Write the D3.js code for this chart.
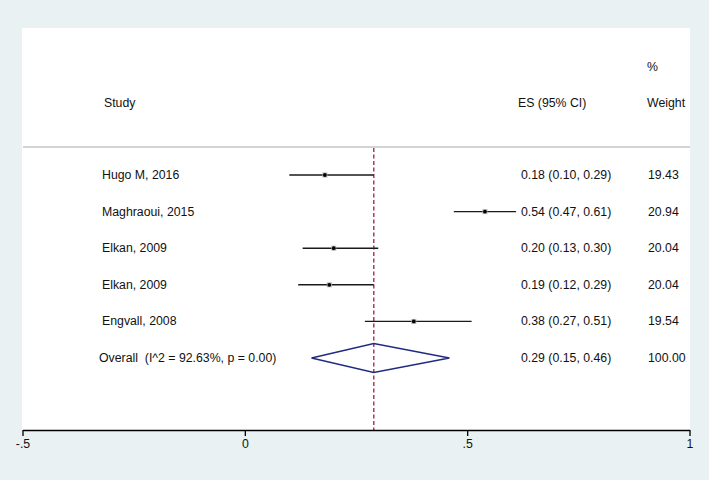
<!DOCTYPE html>
<html>
<head>
<meta charset="utf-8">
<script src="https://cdn.jsdelivr.net/npm/d3@7"></script>
<style>
  html, body { margin: 0; padding: 0; background: #e9f1f3; }
  svg { display: block; }
  text { font-family: "Liberation Sans", Arial, Helvetica, sans-serif; font-size: 12.3px; fill: #111; }
</style>
</head>
<body>
<svg id="chart" width="709" height="480"></svg>
<script>
// ---- data ----
const studies = ["Hugo M, 2016", "Maghraoui, 2015", "Elkan, 2009", "Elkan, 2009", "Engvall, 2008"];
const es      = [0.18, 0.54, 0.20, 0.19, 0.38];
const ciLow   = [0.10, 0.47, 0.13, 0.12, 0.27];
const ciHigh  = [0.29, 0.61, 0.30, 0.29, 0.51];
const weights = [19.43, 20.94, 20.04, 20.04, 19.54];
const overallLabel = "Overall  (I^2 = 92.63%, p = 0.00)";
const overall = { es: 0.29, lo: 0.15, hi: 0.46, weight: 100.00 };
const xTicks = [-0.5, 0, 0.5, 1];
const xTickLabels = ["-.5", "0", ".5", "1"];

// ---- drawing ----
const svg = d3.select("#chart");
const W = 709, H = 480;
svg.append("rect").attr("width", W).attr("height", H).attr("fill", "#e9f1f3");

const plot = { left: 22, right: 690, top: 28, axisY: 430, sepY: 147 };
svg.append("rect")
  .attr("x", plot.left).attr("y", plot.top)
  .attr("width", plot.right - plot.left).attr("height", plot.axisY - plot.top)
  .attr("fill", "#ffffff");

const x = d3.scaleLinear().domain([-0.5, 1]).range([22.5, 689.5]);
const y = d3.scaleLinear().domain([0, 5]).range([175, 358]);
const fmt = d3.format(".2f");

// header
const colStudyX = 102, colEsX = 521, colWX = 648;
svg.append("text").attr("x", 104).attr("y", 107).text("Study");
svg.append("text").attr("x", 518).attr("y", 107).text("ES (95% CI)");
svg.append("text").attr("x", 647).attr("y", 71).text("%");
svg.append("text").attr("x", 647).attr("y", 107).text("Weight");

// separator
svg.append("line")
  .attr("x1", plot.left + 1).attr("x2", plot.right)
  .attr("y1", plot.sepY).attr("y2", plot.sepY)
  .attr("stroke", "#c4c4c4").attr("stroke-width", 1.3);

// reference dashed line at overall ES
svg.append("line")
  .attr("x1", x(overall.es)).attr("x2", x(overall.es))
  .attr("y1", plot.sepY + 1).attr("y2", plot.axisY)
  .attr("stroke", "#a3304c").attr("stroke-width", 1.4)
  .attr("stroke-dasharray", "4,2.5");

// study rows
const rows = studies.map((s, i) => ({ s, es: es[i], lo: ciLow[i], hi: ciHigh[i], w: weights[i], i }));
const g = svg.append("g");
rows.forEach(d => {
  const yy = y(d.i);
  g.append("text").attr("x", colStudyX).attr("y", yy + 4).text(d.s);
  g.append("line")
    .attr("x1", x(d.lo)).attr("x2", x(d.hi))
    .attr("y1", yy).attr("y2", yy)
    .attr("stroke", "#1a1a1a").attr("stroke-width", 1.4);
  g.append("rect")
    .attr("x", x(d.es) - 2.5).attr("y", yy - 2.5)
    .attr("width", 5).attr("height", 5)
    .attr("fill", "#b5b5b5");
  g.append("circle")
    .attr("cx", x(d.es)).attr("cy", yy).attr("r", 1.9)
    .attr("fill", "#000");
  g.append("text").attr("x", colEsX).attr("y", yy + 4)
    .text(`${fmt(d.es)} (${fmt(d.lo)}, ${fmt(d.hi)})`);
  g.append("text").attr("x", colWX).attr("y", yy + 4).text(fmt(d.w));
});

// overall row
const yo = y(5);
svg.append("text").attr("x", 99).attr("y", yo + 4).text(overallLabel).style("white-space", "pre");
const dh = 14.5;
svg.append("path")
  .attr("d", d3.line()([
    [x(overall.lo), yo], [x(overall.es), yo - dh], [x(overall.hi), yo], [x(overall.es), yo + dh]
  ]) + "Z")
  .attr("fill", "none").attr("stroke", "#1f2a80").attr("stroke-width", 1.3);
svg.append("text").attr("x", colEsX).attr("y", yo + 4)
  .text(`${fmt(overall.es)} (${fmt(overall.lo)}, ${fmt(overall.hi)})`);
svg.append("text").attr("x", colWX).attr("y", yo + 4).text(fmt(overall.weight));

// x axis
const axis = d3.axisBottom(x).tickValues(xTicks)
  .tickFormat((d, i) => xTickLabels[i]).tickSize(6).tickSizeOuter(0);
const ax = svg.append("g").attr("transform", `translate(0,${plot.axisY})`).call(axis);
ax.select(".domain").attr("stroke", "#000").attr("stroke-width", 1.3);
ax.selectAll(".tick line").attr("stroke", "#000").attr("stroke-width", 1.3);
ax.selectAll(".tick text")
  .attr("y", 9).attr("dy", "0.71em")
  .style("font-family", "'Liberation Sans', Arial, sans-serif")
  .style("font-size", "12.3px").attr("fill", "#111");
</script>
</body>
</html>
